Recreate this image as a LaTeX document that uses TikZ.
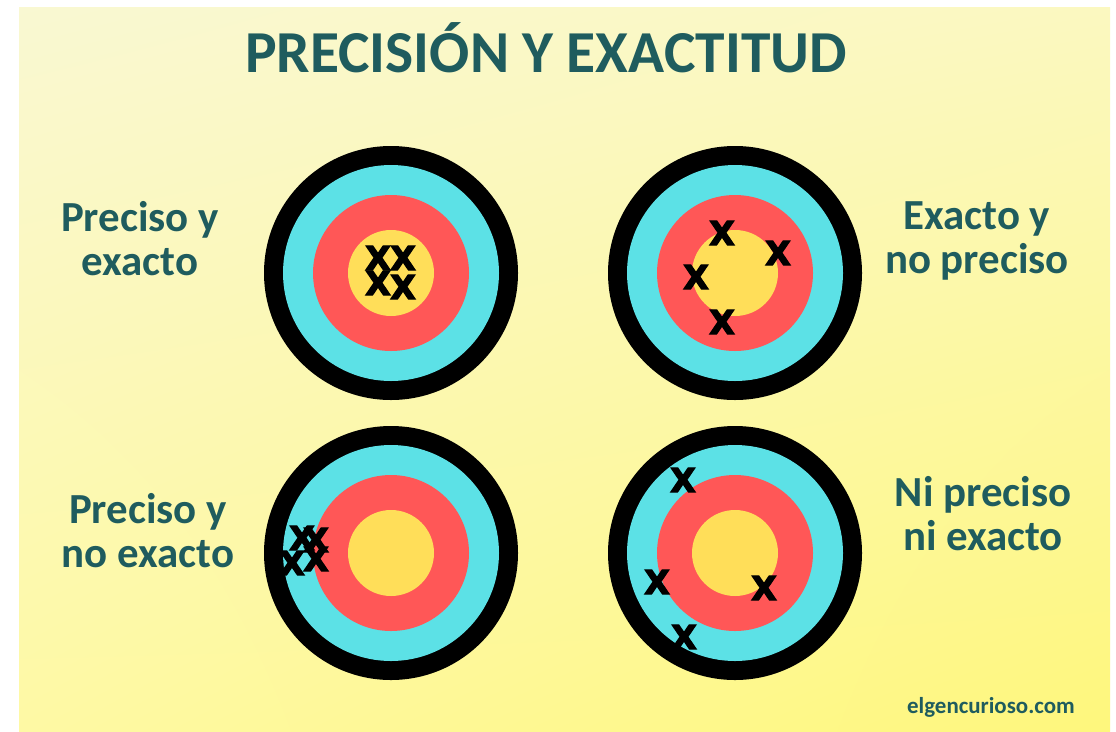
\documentclass[tikz,border=0pt]{standalone}
\usepackage{fontspec}
\usetikzlibrary{shadings}
\setmainfont{Carlito}
\newfontfamily\markfont{DejaVu Sans}[BoldFeatures={FakeBold=4}]
\definecolor{textteal}{HTML}{1F5C5E}
\definecolor{ringcyan}{HTML}{5CE1E6}
\definecolor{ringred}{HTML}{FF5757}
\definecolor{ringyellow}{HTML}{FFDE59}
\definecolor{bgtl}{HTML}{F9F8D2}
\definecolor{bgtr}{HTML}{FBF8C0}
\definecolor{bgbl}{HTML}{FEF9A4}
\definecolor{bgbr}{HTML}{FEF77C}
\tikzset{
  caption/.style={font=\bfseries\fontsize{30.5}{31}\selectfont, text=textteal, align=center, anchor=base, inner sep=0pt},
  hitmark/.style={font=\markfont\bfseries\fontsize{23.5}{23.5}\selectfont, inner sep=0pt},
}
\begin{document}
\begin{tikzpicture}[x=0.025cm, y=-0.025cm]
    % page and background
    \useasboundingbox (0,0) rectangle (1116,731);
    \fill[white] (0,0) rectangle (1116,731);
    \shade[upper left=bgtl, upper right=bgtr, lower left=bgbl, lower right=bgbr] (19,7) rectangle (1110,731);

    % the title
    \node[font=\bfseries\fontsize{42.3}{43}\selectfont, text=textteal, anchor=base] (title) at (546,72) {PRECISIÓN Y EXACTITUD};

    % the four targets (centres first, then the rings)
    \coordinate (tl) at (391,273);
    \coordinate (tr) at (735,273);
    \coordinate (bl) at (391,553);
    \coordinate (br) at (735,553);
    \foreach \c in {tl,tr,bl,br} {
        \fill[black] (\c) circle (127);
        \fill[ringcyan] (\c) circle (108);
        \fill[ringred] (\c) circle (78);
        \fill[ringyellow] (\c) circle (43);
    }

    % the texts beside the targets (base = last line)
    \node[caption] (ptl) at (140,275) {Preciso y\\exacto};
    \node[caption] (ptr) at (977,273) {Exacto y\\no preciso};
    \node[caption] (pbl) at (148,567) {Preciso y\\no exacto};
    \node[caption] (pbr) at (983,550) {Ni preciso\\ni exacto};

    % the hits: precise and exact
    \node[hitmark] (a1) at (378,258) {X};
    \node[hitmark] (a2) at (403,258) {X};
    \node[hitmark] (a3) at (378,283) {X};
    \node[hitmark] (a4) at (403,287) {X};
    % exact, not precise
    \node[hitmark] (b1) at (722,233) {X};
    \node[hitmark] (b2) at (778,253) {X};
    \node[hitmark] (b3) at (696,277) {X};
    \node[hitmark] (b4) at (722,322) {X};
    % precise, not exact
    \node[hitmark] (c1) at (302,538) {X};
    \node[hitmark] (c2) at (316,540) {X};
    \node[hitmark] (c3) at (292,563) {X};
    \node[hitmark] (c4) at (316,559) {X};
    % neither
    \node[hitmark] (d1) at (683,480) {X};
    \node[hitmark] (d2) at (657,582) {X};
    \node[hitmark] (d3) at (764,588) {X};
    \node[hitmark] (d4) at (684,637) {X};

    % the source
    \node[font=\bfseries\fontsize{16.3}{16}\selectfont, text=textteal, anchor=base] (site) at (991,713) {elgencurioso.com};
\end{tikzpicture}
\end{document}
